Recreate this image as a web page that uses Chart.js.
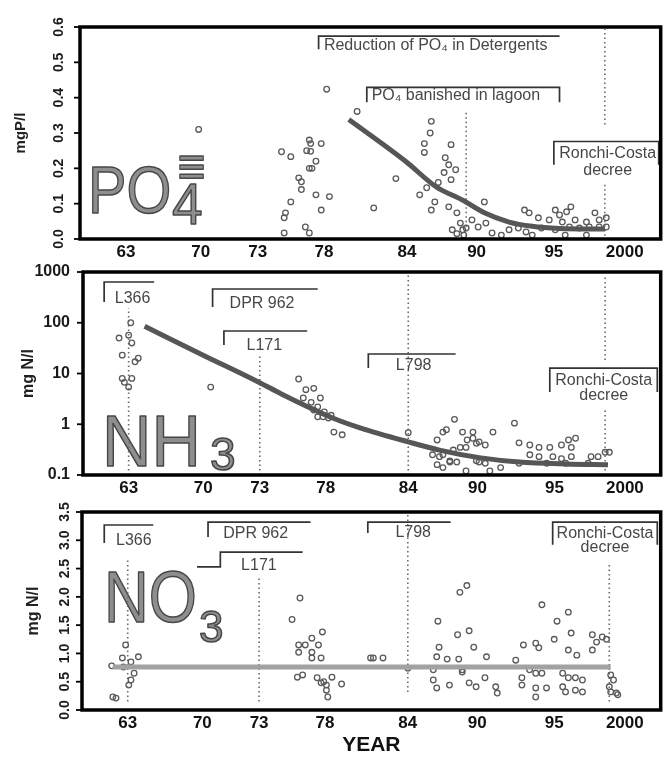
<!DOCTYPE html>
<html>
<head>
<meta charset="utf-8">
<script src="https://cdn.jsdelivr.net/npm/chart.js@4.4.1/dist/chart.umd.min.js"></script>
<style>
  html, body { margin: 0; padding: 0; background: #fff; }
  #page { position: relative; width: 666px; height: 758px; overflow: hidden; background: #fff; }
  #page canvas { position: absolute; left: 0; }
</style>
</head>
<body>
<div id="page">
  <canvas id="po4" width="666" height="262" style="top:0"></canvas>
  <canvas id="nh3" width="666" height="233" style="top:262px"></canvas>
  <canvas id="no3" width="666" height="263" style="top:495px"></canvas>
</div>
<script>
// year axis labels
const tickYears = [1963, 1970, 1973, 1978, 1984, 1990, 1995, 2000];
const tickLabels = ['63', '70', '73', '78', '84', '90', '95', '2000'];

// value axis ticks
const po4Ticks = [0, 0.1, 0.2, 0.3, 0.4, 0.5, 0.6];
const nh3Ticks = [0.1, 1, 10, 100, 1000];
const no3Ticks = [0, 0.5, 1, 1.5, 2, 2.5, 3, 3.5];

// phosphate samples, [year, mg P/l]
const po4Samples = [
  [1969.8, 0.31], [1974.8, 0.247], [1975.0, 0.06], [1975.0, 0.017], [1975.1, 0.074],
  [1975.5, 0.233], [1975.5, 0.105], [1976.1, 0.173], [1976.3, 0.162], [1976.3, 0.14],
  [1976.6, 0.034], [1976.7, 0.25], [1976.9, 0.28], [1976.9, 0.20], [1976.9, 0.017],
  [1977.0, 0.27], [1977.0, 0.248], [1977.1, 0.20], [1977.4, 0.22], [1977.4, 0.125],
  [1977.8, 0.27], [1977.8, 0.082], [1978.2, 0.424], [1978.4, 0.12], [1980.4, 0.361],
  [1981.6, 0.088], [1983.2, 0.171], [1985.1, 0.125], [1985.5, 0.27], [1985.5, 0.245],
  [1985.7, 0.145], [1986.0, 0.30], [1986.1, 0.333], [1986.1, 0.082], [1986.4, 0.105],
  [1986.7, 0.16], [1987.2, 0.188], [1987.3, 0.23], [1987.6, 0.21], [1987.6, 0.091],
  [1987.8, 0.267], [1987.8, 0.168], [1987.9, 0.026], [1988.2, 0.196], [1988.3, 0.074],
  [1988.3, 0.015], [1988.6, 0.045], [1988.8, 0.026], [1988.9, 0.011], [1989.1, 0.031],
  [1989.6, 0.054], [1990.1, 0.034], [1990.5, 0.105], [1990.6, 0.045], [1991.0, 0.017],
  [1991.6, 0.011], [1992.1, 0.026], [1992.7, 0.031], [1993.1, 0.082], [1993.2, 0.02],
  [1993.4, 0.074], [1993.6, 0.011], [1994.0, 0.06], [1994.2, 0.031], [1994.7, 0.054],
  [1995.1, 0.082], [1995.1, 0.026], [1995.4, 0.068], [1995.6, 0.048], [1995.8, 0.011],
  [1995.9, 0.077], [1996.1, 0.034], [1996.2, 0.091], [1996.5, 0.054], [1996.8, 0.031],
  [1997.3, 0.048], [1997.3, 0.011], [1997.5, 0.034], [1997.9, 0.074], [1998.2, 0.054],
  [1998.2, 0.034], [1998.7, 0.06], [1998.7, 0.034]
];
const po4Trend = [
  [1979.8, 0.338], [1983.9, 0.22], [1986.5, 0.148], [1988.8, 0.11], [1990.5, 0.074],
  [1992.1, 0.048], [1993.6, 0.036], [1995.4, 0.03], [1998.6, 0.028]
];

// ammonia samples, [year, mg N/l]
const nh3Samples = [
  [1962.1, 50], [1962.4, 23], [1962.4, 8], [1962.6, 6.7], [1963.0, 57], [1963.0, 5.4],
  [1963.2, 100], [1963.3, 40], [1963.3, 8], [1963.6, 17], [1963.9, 20], [1970.4, 5.4],
  [1975.95, 7.8], [1976.3, 3.3], [1976.5, 4.8], [1976.9, 2.7], [1977.1, 5.1], [1977.1, 1.9],
  [1977.4, 2.2], [1977.4, 1.4], [1977.6, 3.3], [1977.8, 1.4], [1977.9, 1.75], [1978.2, 1.33],
  [1978.4, 1.5], [1978.6, 0.70], [1979.2, 0.62], [1984.0, 0.68], [1986.1, 0.25], [1986.5, 0.49],
  [1986.5, 0.16], [1986.7, 0.23], [1987.0, 0.70], [1987.0, 0.25], [1987.0, 0.14], [1987.3, 0.78],
  [1987.6, 0.19], [1987.6, 0.18], [1987.9, 0.31], [1988.0, 1.25], [1988.2, 0.18], [1988.5, 0.35],
  [1988.7, 0.70], [1989.0, 0.35], [1989.0, 0.12], [1989.1, 0.49], [1989.6, 0.70], [1989.6, 0.53],
  [1989.9, 0.42], [1989.9, 0.19], [1990.1, 0.45], [1990.1, 0.18], [1990.5, 0.39], [1990.5, 0.17],
  [1990.8, 0.12], [1991.0, 0.70], [1991.5, 0.14], [1992.4, 1.05], [1992.7, 0.43], [1992.7, 0.17],
  [1993.4, 0.39], [1993.4, 0.25], [1994.0, 0.35], [1994.0, 0.23], [1994.5, 0.17], [1994.7, 0.35],
  [1994.9, 0.23], [1995.5, 0.39], [1995.5, 0.21], [1995.8, 0.17], [1996.0, 0.49], [1996.2, 0.35],
  [1996.2, 0.23], [1996.5, 0.53], [1997.4, 0.17], [1997.6, 0.23], [1998.1, 0.23], [1998.6, 0.28],
  [1998.9, 0.28]
];
const nh3Trend = [
  [1964.5, 85], [1970, 23], [1973, 6.6], [1974.6, 4.0], [1978.6, 1.3], [1980.5, 0.85],
  [1984, 0.45], [1986.7, 0.31], [1990.1, 0.22], [1992.7, 0.18], [1995.8, 0.165], [1998.8, 0.16]
];

// nitrate samples, [year, mg N/l]
const no3Samples = [
  [1961.5, 0.78], [1961.6, 0.23], [1961.9, 0.21], [1962.5, 0.92], [1962.6, 0.76], [1962.8, 1.15],
  [1963.1, 0.44], [1963.3, 0.85], [1963.3, 0.53], [1963.6, 0.65], [1964.0, 0.94],
  [1975.5, 1.6], [1975.9, 0.58], [1976.0, 1.15], [1976.0, 1.02], [1976.1, 1.98], [1976.3, 0.62],
  [1976.5, 1.15], [1977.0, 1.27], [1977.0, 1.02], [1977.0, 0.92], [1977.4, 0.57], [1977.5, 1.15],
  [1977.7, 0.92], [1977.7, 0.48], [1977.8, 1.38], [1977.9, 0.50], [1978.1, 0.44], [1978.1, 0.35],
  [1978.2, 0.23], [1978.5, 0.58], [1979.2, 0.46], [1981.3, 0.92], [1981.5, 0.92], [1982.2, 0.92],
  [1984.0, 0.74], [1986.2, 0.71], [1986.2, 0.53], [1986.5, 0.94], [1986.5, 0.39], [1986.6, 1.57],
  [1986.7, 1.11], [1987.4, 0.90], [1987.6, 0.44], [1988.3, 1.33], [1988.4, 0.90], [1988.5, 2.08],
  [1988.7, 0.71], [1988.7, 0.67], [1989.1, 2.2], [1989.3, 1.40], [1989.3, 0.48], [1989.7, 1.11],
  [1989.9, 0.41], [1990.5, 0.57], [1990.6, 0.94], [1991.2, 0.41], [1991.3, 0.30], [1992.5, 0.88],
  [1992.9, 0.57], [1992.9, 0.44], [1993.0, 1.15], [1993.4, 0.71], [1993.8, 1.18], [1993.8, 0.65],
  [1993.8, 0.39], [1993.8, 0.23], [1994.0, 1.10], [1994.2, 1.86], [1994.2, 0.65], [1994.5, 0.39],
  [1995.0, 1.25], [1995.2, 1.57], [1995.6, 0.65], [1995.6, 0.41], [1995.8, 0.32], [1996.0, 1.73],
  [1996.0, 1.06], [1996.0, 0.57], [1996.2, 1.36], [1996.5, 0.57], [1996.5, 0.35], [1996.6, 0.97],
  [1997.0, 0.53], [1997.0, 0.32], [1997.7, 1.33], [1997.7, 1.06], [1998.0, 1.2], [1998.4, 1.29],
  [1998.7, 1.25], [1998.9, 0.41], [1999.0, 0.62], [1999.0, 0.32], [1999.2, 0.53], [1999.4, 0.30],
  [1999.5, 0.27]
];
const no3Mean = [[1961.6, 0.76], [1999.0, 0.76]];

const FONT = '"Liberation Sans", Arial, sans-serif';
Chart.defaults.font.family = FONT;
Chart.defaults.color = '#111';

// the year axis is not evenly spaced: each labelled year sits at its own
// fraction of the plot width, and years in between are placed linearly
const tickSlots = [0.079, 0.208, 0.306, 0.420, 0.563, 0.683, 0.816, 0.938];

function slot(year) {
  const n = tickYears.length;
  let i = 0;
  if (year >= tickYears[n - 1]) i = n - 2;
  else while (i < n - 2 && year > tickYears[i + 1]) i++;
  const t = (year - tickYears[i]) / (tickYears[i + 1] - tickYears[i]);
  return tickSlots[i] + t * (tickSlots[i + 1] - tickSlots[i]);
}

const toPoints = rows => rows.map(([year, v]) => ({ x: slot(year), y: v }));

// draws formula, dotted markers, law brackets, frame and value ticks
function makeFigure(cfg) {
  return {
    id: 'figure',
    beforeDatasetsDraw(chart) {
      const { ctx, chartArea: a, scales: { x, y } } = chart;
      ctx.save();
      cfg.formula.forEach(p => {
        ctx.save();
        ctx.font = `${p.size}px ${p.family || FONT}`;
        ctx.translate(a.left + p.dx, a.bottom + p.dy);
        ctx.scale(p.sx || 1, 1);
        ctx.textAlign = 'left';
        ctx.textBaseline = 'alphabetic';
        ctx.fillStyle = '#8e8e8e';
        ctx.strokeStyle = '#474747';
        ctx.lineWidth = 1.5;
        ctx.lineJoin = 'round';
        ctx.fillText(p.text, 0, 0);
        ctx.strokeText(p.text, 0, 0);
        ctx.restore();
      });
      ctx.strokeStyle = '#6a6a6a';
      ctx.lineWidth = 1.6;
      ctx.setLineDash([1.5, 3]);
      cfg.guides.forEach(([year, from, to]) => {
        const px = x.getPixelForValue(slot(year));
        ctx.beginPath();
        ctx.moveTo(px, y.getPixelForValue(from));
        ctx.lineTo(px, y.getPixelForValue(to));
        ctx.stroke();
      });
      ctx.restore();
    },
    afterDatasetsDraw(chart) {
      const { ctx, chartArea: a, scales: { x, y } } = chart;
      const px = year => x.getPixelForValue(slot(year));
      ctx.save();
      ctx.strokeStyle = '#333';
      ctx.lineWidth = 1.7;
      ctx.fillStyle = '#474747';
      ctx.font = '16px ' + FONT;
      ctx.textBaseline = 'alphabetic';
      cfg.notes.forEach(n => {
        ctx.beginPath();
        n.path.forEach(([year, v], i) => {
          if (i === 0) ctx.moveTo(px(year), y.getPixelForValue(v));
          else ctx.lineTo(px(year), y.getPixelForValue(v));
        });
        ctx.stroke();
        n.text.forEach(([label, year, v, align]) => {
          ctx.textAlign = align || 'left';
          ctx.fillText(label, px(year), y.getPixelForValue(v));
        });
      });

      ctx.strokeStyle = '#000';
      ctx.lineWidth = 3.5;
      ctx.strokeRect(a.left, a.top, a.right - a.left, a.bottom - a.top);

      ctx.lineWidth = 1.8;
      ctx.fillStyle = '#1a1a1a';
      ctx.font = cfg.tickFont;
      y.ticks.forEach((t, i) => {
        const py = y.getPixelForValue(t.value);
        ctx.beginPath();
        ctx.moveTo(a.left - 6, py);
        ctx.lineTo(a.left, py);
        ctx.stroke();
        const label = cfg.tickText[i];
        if (cfg.rotateTicks) {
          ctx.save();
          ctx.translate(a.left - cfg.tickGap, py);
          ctx.rotate(-Math.PI / 2);
          ctx.textAlign = 'center';
          ctx.textBaseline = 'middle';
          ctx.fillText(label, 0, 0);
          ctx.restore();
        } else {
          ctx.textAlign = 'right';
          ctx.textBaseline = 'middle';
          ctx.fillText(label, a.left - cfg.tickGap, py);
        }
      });
      ctx.restore();
    }
  };
}

function yearAxis(height, title) {
  return {
    type: 'linear',
    min: 0,
    max: 1,
    grid: { display: false, drawTicks: false },
    border: { display: false },
    afterBuildTicks: s => { s.ticks = tickSlots.map(v => ({ value: v })); },
    afterFit: s => { s.height = height; },
    ticks: {
      autoSkip: false,
      maxRotation: 0,
      padding: 3,
      font: { size: 17, weight: 'bold' },
      color: '#111',
      callback: (v, i) => tickLabels[i]
    },
    title: title
      ? { display: true, text: title, font: { size: 21, weight: 'bold' }, color: '#111', padding: { top: 0, bottom: 0 } }
      : { display: false }
  };
}

function valueAxis(opts) {
  return Object.assign({
    grid: { display: false, drawTicks: false },
    border: { display: false },
    ticks: { display: false },
    afterBuildTicks: s => { s.ticks = opts.tickValues.map(v => ({ value: v })); },
    afterFit: s => { s.width = opts.width; },
    title: {
      display: true,
      text: opts.title,
      font: { size: opts.titleSize, weight: 'bold' },
      color: '#222',
      padding: { top: opts.titleGap, bottom: 0 }
    }
  }, opts.scale);
}

function sampleSet(rows) {
  return {
    data: toPoints(rows),
    pointRadius: 2.8,
    pointBorderWidth: 1.3,
    pointBorderColor: '#5a5a5a',
    pointBackgroundColor: 'rgba(0,0,0,0)',
    order: 2
  };
}

function trendSet(rows, color) {
  return {
    data: toPoints(rows),
    showLine: true,
    pointRadius: 0,
    borderColor: color,
    borderWidth: 5,
    cubicInterpolationMode: 'monotone',
    order: 1
  };
}

function makePanel(id, cfg) {
  return new Chart(document.getElementById(id), {
    type: 'scatter',
    data: { datasets: [sampleSet(cfg.samples), trendSet(cfg.trend, cfg.trendColor)] },
    options: {
      responsive: false,
      animation: false,
      events: [],
      layout: { padding: cfg.padding },
      plugins: { legend: { display: false }, tooltip: { enabled: false } },
      scales: { x: yearAxis(cfg.xHeight, cfg.xTitle), y: valueAxis(cfg.yAxis) }
    },
    plugins: [makeFigure(cfg.figure)]
  });
}

makePanel('po4', {
  samples: po4Samples,
  trend: po4Trend,
  trendColor: '#565656',
  padding: { top: 27, right: 4, left: 0, bottom: 0 },
  xHeight: 23,
  yAxis: { width: 80, title: 'mgP/l', titleSize: 15, titleGap: 12, tickValues: po4Ticks,
           scale: { type: 'linear', min: 0, max: 0.6 } },
  figure: {
    tickFont: 'bold 14px ' + FONT,
    tickText: po4Ticks.map(v => v.toFixed(1)),
    rotateTicks: true,
    tickGap: 21,
    formula: [
      { text: 'PO', size: 67, dx: 8, dy: -26, sx: 0.86 },
      { text: '4', size: 58, dx: 92, dy: -15, sx: 0.95 },
      { text: '≡', size: 50, dx: 96, dy: -56, sx: 0.75, family: '"DejaVu Sans", sans-serif' }
    ],
    guides: [[1989.1, 0.009, 0.358], [1998.6, 0.324, 0.594], [1998.6, 0.009, 0.154]],
    notes: [
      { path: [[1977.6, 0.537], [1977.6, 0.574], [1995.4, 0.574]],
        text: [['Reduction of PO₄ in Detergents', 1978.0, 0.535]] },
      { path: [[1981.1, 0.387], [1981.1, 0.429], [1995.4, 0.429], [1995.4, 0.387]],
        text: [['PO₄ banished in lagoon', 1981.45, 0.392]] },
      { path: [[1995.0, 0.21], [1995.0, 0.276], [2002.4, 0.276], [2002.4, 0.21]],
        text: [['Ronchi-Costa', 1998.8, 0.230, 'center'], ['decree', 1998.8, 0.182, 'center']] }
    ]
  }
});

makePanel('nh3', {
  samples: nh3Samples,
  trend: nh3Trend,
  trendColor: '#565656',
  padding: { top: 10, right: 3, left: 0, bottom: 0 },
  xHeight: 20,
  yAxis: { width: 83, title: 'mg N/l', titleSize: 16, titleGap: 19, tickValues: nh3Ticks,
           scale: { type: 'logarithmic', min: 0.1, max: 1000 } },
  figure: {
    tickFont: 'bold 16px ' + FONT,
    tickText: nh3Ticks.map(v => String(v)),
    rotateTicks: false,
    tickGap: 13,
    formula: [
      { text: 'NH', size: 72, dx: 19, dy: -9, sx: 0.95 },
      { text: '3', size: 46, dx: 127, dy: -5 }
    ],
    guides: [[1963, 0.1, 195], [1973, 0.1, 23], [1984, 0.1, 870], [1998.6, 18.4, 870], [1998.6, 0.1, 1.9]],
    notes: [
      { path: [[1960.7, 256], [1960.7, 635], [1965.4, 635]], text: [['L366', 1961.7, 245]] },
      { path: [[1970.5, 204], [1970.5, 462], [1977.4, 462]], text: [['DPR 962', 1971.4, 195]] },
      { path: [[1971.1, 36.5], [1971.1, 68.7], [1976.6, 68.7]], text: [['L171', 1972.3, 29]] },
      { path: [[1981.1, 12.8], [1981.1, 24.2], [1988.1, 24.2]], text: [['L798', 1983.1, 11.7]] },
      { path: [[1994.7, 4.32], [1994.7, 12.8], [2002.3, 12.8], [2002.3, 4.32]],
        text: [['Ronchi-Costa', 1998.5, 5.94, 'center'], ['decree', 1998.5, 3.0, 'center']] }
    ]
  }
});

makePanel('no3', {
  samples: no3Samples,
  trend: no3Mean,
  trendColor: '#a2a2a2',
  padding: { top: 17, right: 4, left: 0, bottom: 0 },
  xHeight: 48,
  xTitle: 'YEAR',
  yAxis: { width: 82, title: 'mg N/l', titleSize: 16, titleGap: 24, tickValues: no3Ticks,
           scale: { type: 'linear', min: 0, max: 3.5 } },
  figure: {
    tickFont: 'bold 14px ' + FONT,
    tickText: no3Ticks.map(v => v.toFixed(1)),
    rotateTicks: true,
    tickGap: 17,
    formula: [
      { text: 'NO', size: 72, dx: 22, dy: -88, sx: 0.86 },
      { text: '3', size: 44, dx: 117, dy: -68 }
    ],
    guides: [[1963, 0.15, 2.65], [1973, 0.15, 2.35], [1984, 0.32, 3.48], [1998.9, 0.15, 2.6]],
    notes: [
      { path: [[1960.8, 2.95], [1960.8, 3.27], [1965.4, 3.27]], text: [['L366', 1961.9, 2.92]] },
      { path: [[1970.3, 3.06], [1970.3, 3.32], [1976.9, 3.32]], text: [['DPR 962', 1971.1, 3.04]] },
      { path: [[1969.5, 2.53], [1970.95, 2.53], [1970.95, 2.79], [1976.3, 2.79]], text: [['L171', 1972.05, 2.47]] },
      { path: [[1981.1, 3.13], [1981.1, 3.32], [1987.7, 3.32]], text: [['L798', 1983.1, 3.06]] },
      { path: [[1994.9, 2.92], [1994.9, 3.32], [2002.3, 3.32], [2002.3, 2.92]],
        text: [['Ronchi-Costa', 1998.6, 3.04, 'center'], ['decree', 1998.6, 2.79, 'center']] }
    ]
  }
});
</script>
</body>
</html>
